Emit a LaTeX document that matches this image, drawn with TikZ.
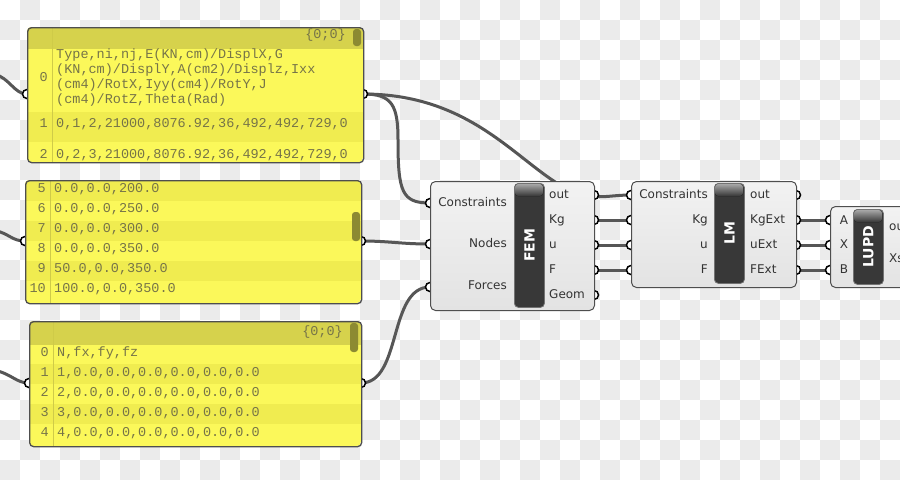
\documentclass[tikz,border=0pt]{standalone}
\usepackage{fontspec}
\setmainfont{DejaVu Sans}
\newfontfamily\monofont{Liberation Mono}
\newfontfamily\lblfamily{DejaVu Sans}
\definecolor{chk}{HTML}{EBEBEB}
\definecolor{txtc}{HTML}{767448}
\definecolor{hdrc}{HTML}{D6D24C}
\definecolor{brtc}{HTML}{FBF85A}
\definecolor{drkc}{HTML}{F0EC50}
\definecolor{sepc}{HTML}{CFCB48}
\definecolor{scrc}{HTML}{8C8A32}
\definecolor{wirec}{HTML}{565656}
\definecolor{lblc}{HTML}{333333}
\definecolor{bordc}{HTML}{4E4E4E}
\tikzset{
  mono/.style={font=\monofont\fontsize{13.5}{15}\selectfont, text=txtc, inner sep=0, anchor=west, text height=8pt, text depth=2.5pt},
  idx/.style={mono, anchor=east},
  lbl/.style={font=\lblfamily\fontsize{12}{14}\selectfont, text=lblc, inner sep=0, text height=8.5pt, text depth=2.5pt},
  lbll/.style={lbl, anchor=east},
  lblr/.style={lbl, anchor=west},
  wire/.style={draw=wirec, line width=3pt},
  port/.style={circle, draw=black, fill=white, line width=1.5pt, minimum size=9pt, inner sep=0},
  panelbox/.style={draw=bordc, line width=1.3pt, rounded corners=4pt, inner sep=0, anchor=north west},
  comp/.style={draw=bordc, line width=1pt, rounded corners=5pt, top color=white!90!gray, bottom color=white!78!gray, inner sep=0, anchor=north west},
  barbox/.style={draw=black!55, line width=0.8pt, fill=black!78, rounded corners=4pt, inner sep=0, anchor=north west},
  bartxt/.style={font=\lblfamily\bfseries\fontsize{14}{16}\selectfont, text=white, rotate=90, inner sep=0},
  scroll/.style={fill=scrc, rounded corners=3pt},
}
\begin{document}
\begin{tikzpicture}[x=1pt,y=-1pt]
\useasboundingbox (0,0) rectangle (900,480);
% checkerboard background
\fill[white] (0,0) rectangle (900,480);
\foreach \i in {0,...,44}{
  \foreach \j in {0,...,23}{
    \pgfmathtruncatemacro{\odd}{mod(\i+\j,2)}
    \ifnum\odd=1 \fill[chk] (\i*20,\j*20) rectangle ++(20,20); \fi
  }
}
% ---------- coordinates of ports ----------
\coordinate (a1in) at (27,94);   \coordinate (a1out) at (363,94);
\coordinate (a2in) at (25,241);  \coordinate (a2out) at (361,241);
\coordinate (a3in) at (29,383);  \coordinate (a3out) at (361,383);
\coordinate (femC) at (430,203); \coordinate (femN) at (430,244); \coordinate (femF) at (430,287);
\coordinate (femO1) at (594,195); \coordinate (femO2) at (594,220); \coordinate (femO3) at (594,245);
\coordinate (femO4) at (594,270); \coordinate (femO5) at (594,295);
\coordinate (lmC) at (631,195); \coordinate (lmK) at (631,220); \coordinate (lmU) at (631,245); \coordinate (lmF) at (631,270);
\coordinate (lmO1) at (796,195); \coordinate (lmO2) at (796,220); \coordinate (lmO3) at (796,245); \coordinate (lmO4) at (796,270);
\coordinate (luA) at (830,220); \coordinate (luX) at (830,245); \coordinate (luB) at (830,270);
\coordinate (w1) at (-6,74); \coordinate (w2) at (-6,230); \coordinate (w3) at (-6,370);
% ---------- wires ----------
\draw[wire] (w1) .. controls (10,78) and (14,94) .. (a1in);
\draw[wire] (w2) .. controls (10,234) and (12,241) .. (a2in);
\draw[wire] (w3) .. controls (12,374) and (16,383) .. (a3in);
\draw[wire] (a1out) .. controls (470,94) and (515,160) .. (565,188) .. controls (595,202) and (605,195) .. (lmC);
\draw[wire] (a1out) .. controls (392,94) and (398,105) .. (398,140) .. controls (398,192) and (402,203) .. (femC);
\draw[wire] (a2out) .. controls (390,241) and (400,244) .. (femN);
\draw[wire] (a3out) .. controls (402,383) and (388,287) .. (femF);
\draw[wire] (femO2) -- (lmK);
\draw[wire] (femO3) -- (lmU);
\draw[wire] (femO4) -- (lmF);
\draw[wire] (lmO2) -- (luA);
\draw[wire] (lmO3) -- (luX);
\draw[wire] (lmO4) -- (luB);
% ---------- ports (drawn under boxes) ----------
\foreach \p in {a1in,a1out,a2in,a2out,a3in,a3out,femC,femN,femF,femO1,femO2,femO3,femO4,femO5,lmC,lmK,lmU,lmF,lmO1,lmO2,lmO3,lmO4,luA,luX,luB}
  \node[port] at (\p) {};
% ---------- panel 1 ----------
\begin{scope}
\clip[rounded corners=4pt] (27,27) rectangle (363,162);
\fill[hdrc] (27,27) rectangle (363,49);
\fill[brtc] (27,49) rectangle (363,112);
\fill[drkc] (27,112) rectangle (363,142);
\fill[brtc] (27,142) rectangle (363,162);
\draw[sepc, line width=0.8pt] (52,27) -- (52,162);
\end{scope}
\fill[scroll] (353,29) rectangle (361,46);
\node[panelbox, minimum width=336pt, minimum height=135pt] (pan1) at (27,27) {};
\node[mono, anchor=east] at (346,36) {\{0;0\}};
\node[idx] at (48,79) {0};
\node[mono] at (56,56) {Type,ni,nj,E(KN,cm)/DisplX,G};
\node[mono] at (56,71) {(KN,cm)/DisplY,A(cm2)/Displz,Ixx};
\node[mono] at (56,86) {(cm4)/RotX,Iyy(cm4)/RotY,J};
\node[mono] at (56,101) {(cm4)/RotZ,Theta(Rad)};
\node[idx] at (48,125) {1};
\node[mono] at (56,125) {0,1,2,21000,8076.92,36,492,492,729,0};
\node[idx] at (48,156) {2};
\node[mono] at (56,156) {0,2,3,21000,8076.92,36,492,492,729,0};
% ---------- panel 2 ----------
\begin{scope}
\clip[rounded corners=4pt] (25,180) rectangle (361,303);
\fill[drkc] (25,180) rectangle (361,201);
\fill[brtc] (25,201) rectangle (361,221);
\fill[drkc] (25,221) rectangle (361,241);
\fill[brtc] (25,241) rectangle (361,261);
\fill[drkc] (25,261) rectangle (361,281);
\fill[brtc] (25,281) rectangle (361,303);
\draw[sepc, line width=0.8pt] (50,180) -- (50,303);
\end{scope}
\fill[scroll] (352,212) rectangle (360,241);
\node[panelbox, minimum width=336pt, minimum height=123pt] (pan2) at (25,180) {};
\foreach \n/\t [count=\k from 0] in {5/{0.0,0.0,200.0},6/{0.0,0.0,250.0},7/{0.0,0.0,300.0},8/{0.0,0.0,350.0},9/{50.0,0.0,350.0},10/{100.0,0.0,350.0}}{
  \node[idx] at (46,190+20*\k) {\n};
  \node[mono] at (54,190+20*\k) {\t};
}
% ---------- panel 3 ----------
\begin{scope}
\clip[rounded corners=4pt] (29,321) rectangle (361,446);
\fill[hdrc] (29,321) rectangle (361,345);
\fill[brtc] (29,345) rectangle (361,364);
\fill[drkc] (29,364) rectangle (361,384);
\fill[brtc] (29,384) rectangle (361,404);
\fill[drkc] (29,404) rectangle (361,424);
\fill[brtc] (29,424) rectangle (361,446);
\draw[sepc, line width=0.8pt] (53,321) -- (53,446);
\end{scope}
\fill[scroll] (350,323) rectangle (358,352);
\node[panelbox, minimum width=332pt, minimum height=125pt] (pan3) at (29,321) {};
\node[mono, anchor=east] at (343,333) {\{0;0\}};
\node[idx] at (49,354) {0};
\node[mono] at (57,354) {N,fx,fy,fz};
\foreach \k in {1,2,3,4}{
  \node[idx] at (49,354+20*\k) {\k};
  \node[mono] at (57,354+20*\k) {\k,0.0,0.0,0.0,0.0,0.0,0.0};
}
% ---------- FEM component ----------
\node[comp, minimum width=164pt, minimum height=129pt] (fem) at (430,181) {};
\node[barbox, minimum width=30pt, minimum height=124pt] (fembar) at (514,183) {};
\fill[top color=black!35, bottom color=black!78, rounded corners=3pt] (515,184) rectangle (543,196);
\node[bartxt] at (fembar.center) {FEM};
\node[lbll] at (507,203) {Constraints};
\node[lbll] at (507,244) {Nodes};
\node[lbll] at (507,286) {Forces};
\node[lblr] at (549,195) {out};
\node[lblr] at (549,220) {Kg};
\node[lblr] at (549,245) {u};
\node[lblr] at (549,270) {F};
\node[lblr] at (549,295) {Geom};
% ---------- LM component ----------
\node[comp, minimum width=165pt, minimum height=106pt] (lm) at (631,181) {};
\node[barbox, minimum width=30pt, minimum height=100pt] (lmbar) at (714,183) {};
\fill[top color=black!35, bottom color=black!78, rounded corners=3pt] (715,184) rectangle (743,196);
\node[bartxt] at (lmbar.center) {LM};
\node[lbll] at (708,195) {Constraints};
\node[lbll] at (708,220) {Kg};
\node[lbll] at (708,245) {u};
\node[lbll] at (708,270) {F};
\node[lblr] at (750,195) {out};
\node[lblr] at (750,220) {KgExt};
\node[lblr] at (750,245) {uExt};
\node[lblr] at (750,270) {FExt};
% ---------- LUPD component ----------
\node[comp, minimum width=100pt, minimum height=81pt] (lupd) at (830,206) {};
\node[barbox, minimum width=30pt, minimum height=75pt] (lubar) at (853,209) {};
\fill[top color=black!35, bottom color=black!78, rounded corners=3pt] (854,210) rectangle (882,222);
\node[bartxt] at (lubar.center) {LUPD};
\node[lbl] at (844,221) {A};
\node[lbl] at (844,245) {X};
\node[lbl] at (844,270) {B};
\node[lblr] at (889,227) {out};
\node[lblr] at (889,259) {Xs};
\end{tikzpicture}
\end{document}
